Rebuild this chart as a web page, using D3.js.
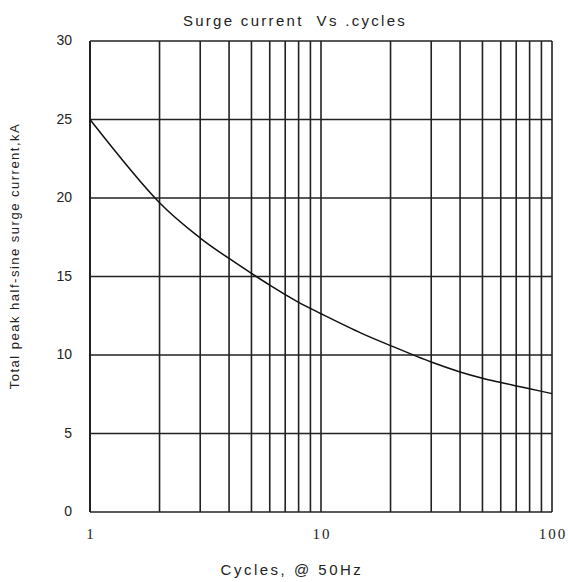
<!DOCTYPE html>
<html>
<head>
<meta charset="utf-8">
<script src="https://cdn.jsdelivr.net/npm/d3@7"></script>
<style>
  body { margin: 0; background: #fff; }
  text { font-family: "Liberation Sans", Arial, sans-serif; fill: #222; }
</style>
</head>
<body>
<div id="chart"></div>
<script>
// data
var cycles = [1, 2, 3, 4, 5, 6, 7, 8, 10, 15, 20, 30, 40, 50, 60, 70, 80, 100];
var currentKA = [25, 19.7, 17.45, 16.15, 15.2, 14.45, 13.85, 13.35, 12.63, 11.38, 10.6, 9.55, 8.92, 8.52, 8.25, 8.03, 7.85, 7.54];
var yTicks = [0, 5, 10, 15, 20, 25, 30];
var xTickLabels = [1, 10, 100];
var xGrid = [2, 3, 4, 5, 6, 7, 8, 9, 10, 20, 30, 40, 50, 60, 70, 80, 90, 100];

var width = 568, height = 582;
var plotL = 90, plotR = 552, plotT = 41, plotB = 512;

var svg = d3.select('#chart').append('svg')
    .attr('width', width)
    .attr('height', height);

var x = d3.scaleLog().domain([1, 100]).range([plotL, plotR]);
var y = d3.scaleLinear().domain([0, 30]).range([plotB, plotT]);

// grid
svg.append('g').selectAll('line')
    .data(yTicks)
    .enter().append('line')
    .attr('x1', plotL).attr('x2', plotR)
    .attr('y1', function(d) { return y(d); })
    .attr('y2', function(d) { return y(d); })
    .attr('stroke', '#222').attr('stroke-width', 1.6);

svg.append('g').selectAll('line')
    .data(xGrid)
    .enter().append('line')
    .attr('y1', plotT).attr('y2', plotB)
    .attr('x1', function(d) { return x(d); })
    .attr('x2', function(d) { return x(d); })
    .attr('stroke', '#222').attr('stroke-width', 1.6);

// left border
svg.append('line')
    .attr('x1', plotL).attr('x2', plotL)
    .attr('y1', plotT).attr('y2', plotB)
    .attr('stroke', '#222').attr('stroke-width', 2);

// curve
var line = d3.line()
    .x(function(d, i) { return x(cycles[i]); })
    .y(function(d) { return y(d); })
    .curve(d3.curveCatmullRom.alpha(0.5));

svg.append('path')
    .datum(currentKA)
    .attr('d', line)
    .attr('fill', 'none')
    .attr('stroke', '#111')
    .attr('stroke-width', 1.5);

// y tick labels
svg.append('g').selectAll('text')
    .data(yTicks)
    .enter().append('text')
    .attr('x', 72)
    .attr('y', function(d) { return y(d); })
    .attr('dy', '0.3em')
    .attr('text-anchor', 'end')
    .attr('font-size', 14)
    .text(function(d) { return d; });

// x tick labels
svg.append('g').selectAll('text')
    .data(xTickLabels)
    .enter().append('text')
    .attr('x', function(d) { return x(d) + 1; })
    .attr('y', 539)
    .attr('text-anchor', 'middle')
    .attr('font-size', 15)
    .style('font-family', '"Liberation Serif", "Times New Roman", serif')
    .style('letter-spacing', '2px')
    .text(function(d) { return d; });

// title
svg.append('text')
    .attr('x', 295).attr('y', 26)
    .attr('text-anchor', 'middle')
    .attr('font-size', 15)
    .style('letter-spacing', '2.3px')
    .style('white-space', 'pre')
    .text('Surge current  Vs .cycles');

// axis titles
svg.append('text')
    .attr('x', 292).attr('y', 575)
    .attr('text-anchor', 'middle')
    .attr('font-size', 15)
    .style('letter-spacing', '2.5px')
    .text('Cycles, @ 50Hz');

svg.append('text')
    .attr('transform', 'translate(19,256) rotate(-90)')
    .attr('text-anchor', 'middle')
    .attr('font-size', 13)
    .style('letter-spacing', '1.5px')
    .text('Total peak half-sine surge current,kA');
</script>
</body>
</html>
